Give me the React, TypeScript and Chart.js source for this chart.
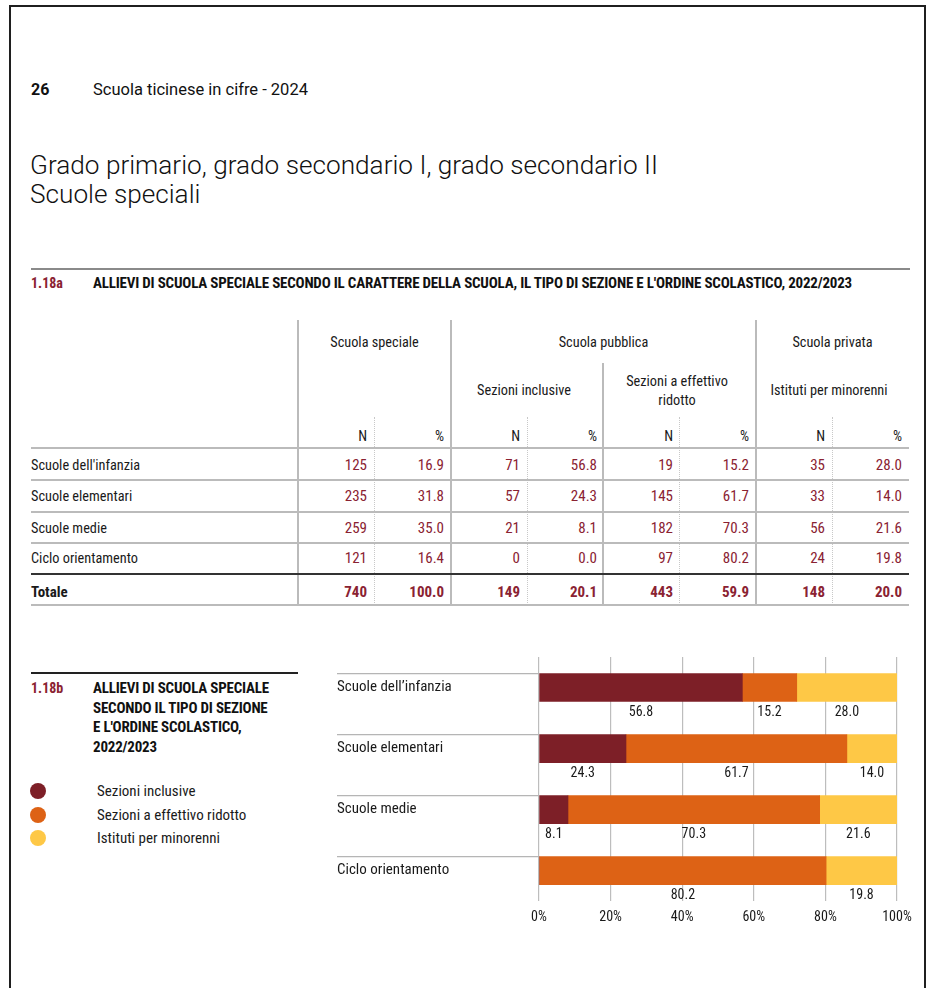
import React, { useEffect, useRef } from "react";
import { Chart, registerables } from "chart.js";

Chart.register(...registerables);

// ---------- data ----------
const categories = ["Scuole dell'infanzia", "Scuole elementari", "Scuole medie", "Ciclo orientamento"];
const chartCategories = ["Scuole dell’infanzia", "Scuole elementari", "Scuole medie", "Ciclo orientamento"];
const totalLabel = "Totale";

const specialeN = [125, 235, 259, 121];
const specialePct = [16.9, 31.8, 35.0, 16.4];
const specialeTot = [740, 100.0];

const inclusiveN = [71, 57, 21, 0];
const inclusivePct = [56.8, 24.3, 8.1, 0.0];
const inclusiveTot = [149, 20.1];

const ridottoN = [19, 145, 182, 97];
const ridottoPct = [15.2, 61.7, 70.3, 80.2];
const ridottoTot = [443, 59.9];

const privataN = [35, 33, 56, 24];
const privataPct = [28.0, 14.0, 21.6, 19.8];
const privataTot = [148, 20.0];

const seriesNames = ["Sezioni inclusive", "Sezioni a effettivo ridotto", "Istituti per minorenni"];
const seriesColors = ["#7d1f27", "#dd6215", "#fec846"];
const xTicks = [0, 20, 40, 60, 80, 100];

// ---------- styles ----------
const COND = '"Liberation Sans Narrow", "Roboto Condensed", "Arial Narrow", Roboto, sans-serif';
const SANS = 'Roboto, "Liberation Sans", sans-serif';
const RED = "#8a2232";
const W = 930;

function T({ x, y, a = "left", s = {}, children }: any) {
  const st: any = { position: "absolute", top: y, whiteSpace: "nowrap", lineHeight: 1, ...s };
  let tx = "";
  if (a === "left") st.left = x;
  else if (a === "right") st.right = W - x;
  else {
    st.left = x;
    tx = "translateX(-50%) ";
  }
  st.transform = tx + "translateY(-50%)";
  return <div style={st}>{children}</div>;
}

function HLine({ x1, x2, y, c = "#bbb", w = 1.5 }: any) {
  return <div style={{ position: "absolute", left: x1, top: y - w / 2, width: x2 - x1, height: w, background: c }} />;
}
function VLine({ x, y1, y2, c = "#bbb", w = 1.5, dotted = false }: any) {
  if (dotted)
    return (
      <div style={{ position: "absolute", left: x - 0.5, top: y1, height: y2 - y1, width: 0, borderLeft: "1px dotted #c8c8c8" }} />
    );
  return <div style={{ position: "absolute", left: x - w / 2, top: y1, width: w, height: y2 - y1, background: c }} />;
}

const fmt1 = (v: number) => v.toFixed(1);

function BarChart() {
  const ref = useRef<HTMLCanvasElement | null>(null);
  useEffect(() => {
    const overlay = {
      id: "overlay",
      afterDatasetsDraw(chart: any) {
        const ctx = chart.ctx;
        const ca = chart.chartArea;
        ctx.save();
        const meta0 = chart.getDatasetMeta(0);
        chartCategories.forEach((c, i) => {
          const bar = meta0.data[i];
          const top = bar.y - bar.height / 2;
          ctx.strokeStyle = "#b5b5b5";
          ctx.lineWidth = 1.3;
          ctx.beginPath();
          ctx.moveTo(7, top);
          ctx.lineTo(ca.left, top);
          ctx.stroke();
          ctx.fillStyle = "#1a1a1a";
          ctx.font = "15px " + COND;
          ctx.textAlign = "left";
          ctx.textBaseline = "middle";
          ctx.fillText(c, 7, top + 14);
        });
        ctx.font = "14px " + COND;
        ctx.textAlign = "center";
        ctx.textBaseline = "middle";
        ctx.fillStyle = "#1a1a1a";
        chart.data.datasets.forEach((ds: any, di: number) => {
          const meta = chart.getDatasetMeta(di);
          meta.data.forEach((bar: any, i: number) => {
            const v = ds.data[i];
            if (!v) return;
            const cx = (bar.base + bar.x) / 2;
            const cy = bar.y + bar.height / 2 + 11;
            ctx.fillText(fmt1(v), cx, cy);
          });
        });
        ctx.restore();
      },
    };
    const chart = new Chart(ref.current as HTMLCanvasElement, {
      type: "bar",
      data: {
        labels: chartCategories,
        datasets: [
          { label: seriesNames[0], data: inclusivePct, backgroundColor: seriesColors[0], barThickness: 28 },
          { label: seriesNames[1], data: ridottoPct, backgroundColor: seriesColors[1], barThickness: 28 },
          { label: seriesNames[2], data: privataPct, backgroundColor: seriesColors[2], barThickness: 28 },
        ],
      },
      options: {
        indexAxis: "y",
        animation: false,
        responsive: false,
        maintainAspectRatio: false,
        layout: { padding: { left: 209, right: 23, top: 12, bottom: 1 } },
        plugins: { legend: { display: false }, tooltip: { enabled: false } },
        scales: {
          x: {
            stacked: true,
            min: 0,
            max: 100,
            afterBuildTicks: (axis: any) => {
              axis.ticks = xTicks.map((v) => ({ value: v }));
            },
            ticks: {
              callback: (v: any) => v + "%",
              color: "#1a1a1a",
              font: { family: COND, size: 14 },
              padding: 8,
            },
            grid: { color: "#bdbdbd", lineWidth: 1.2, drawTicks: false },
            border: { display: false },
          },
          y: { stacked: true, display: false },
        },
      } as any,
      plugins: [overlay],
    });
    return () => chart.destroy();
  }, []);
  return (
    <div style={{ position: "absolute", left: 330, top: 645, width: 590, height: 290 }}>
      <canvas ref={ref} width={590} height={290} style={{ width: 590, height: 290 }} />
    </div>
  );
}

export default function App() {
  const rowY = [465, 496, 528, 558];
  const totY = 592;
  const rowLines = [448, 480, 512, 543];
  const nRight = [367, 520, 673, 825];
  const pRight = [444, 597, 749, 902];
  const groupsN = [specialeN, inclusiveN, ridottoN, privataN];
  const groupsP = [specialePct, inclusivePct, ridottoPct, privataPct];
  const groupsT = [specialeTot, inclusiveTot, ridottoTot, privataTot];
  const cell = { fontFamily: COND, fontSize: 15, color: RED };
  const hdr = { fontFamily: COND, fontSize: 14.3, color: "#1a1a1a" };
  const boldTitle = { fontFamily: COND, fontSize: 15, fontWeight: 700, color: "#111", letterSpacing: "-0.2px" };

  return (
    <div style={{ position: "absolute", left: 0, top: 0, width: 930, height: 988, overflow: "hidden", background: "#fff" }}>
      {/* page frame */}
      <div style={{ position: "absolute", left: 9, top: 5, width: 917, height: 1100, border: "2px solid #1f1f1f", boxSizing: "border-box" }} />

      {/* header */}
      <T x={31} y={90} s={{ fontFamily: SANS, fontSize: 16, fontWeight: 700, color: "#111" }}>26</T>
      <T x={93} y={90} s={{ fontFamily: SANS, fontSize: 16.5, color: "#111" }}>Scuola ticinese in cifre - 2024</T>

      <T x={30} y={165} s={{ fontFamily: SANS, fontSize: 26.2, fontWeight: 300, color: "#111" }}>
        Grado primario, grado secondario I, grado secondario II
      </T>
      <T x={30} y={194} s={{ fontFamily: SANS, fontSize: 26.2, fontWeight: 300, color: "#111" }}>Scuole speciali</T>

      {/* table 1.18a */}
      <HLine x1={31} x2={910} y={269} c="#8a8a8a" w={2} />
      <T x={31} y={283} s={{ fontFamily: COND, fontSize: 14, fontWeight: 700, color: RED }}>1.18a</T>
      <T x={93} y={283} s={boldTitle}>
        ALLIEVI DI SCUOLA SPECIALE SECONDO IL CARATTERE DELLA SCUOLA, IL TIPO DI SEZIONE E L'ORDINE SCOLASTICO, 2022/2023
      </T>

      <VLine x={298} y1={320} y2={605} />
      <VLine x={451} y1={320} y2={605} />
      <VLine x={756} y1={320} y2={605} />
      <VLine x={603} y1={363} y2={605} />
      {[374.5, 527, 679.5, 832].map((x) => (
        <VLine key={x} x={x} y1={417} y2={605} dotted />
      ))}

      <T x={374.5} y={342} a="center" s={hdr}>Scuola speciale</T>
      <T x={603.5} y={342} a="center" s={hdr}>Scuola pubblica</T>
      <T x={832.5} y={342} a="center" s={hdr}>Scuola privata</T>
      <T x={524} y={390} a="center" s={hdr}>Sezioni inclusive</T>
      <T x={677} y={381} a="center" s={hdr}>Sezioni a effettivo</T>
      <T x={677} y={400} a="center" s={hdr}>ridotto</T>
      <T x={829} y={390} a="center" s={hdr}>Istituti per minorenni</T>
      {nRight.map((x, i) => (
        <T key={"n" + i} x={x} y={436} a="right" s={hdr}>N</T>
      ))}
      {pRight.map((x, i) => (
        <T key={"p" + i} x={x} y={436} a="right" s={hdr}>%</T>
      ))}

      {rowLines.map((y, i) => (
        <HLine key={"rl" + i} x1={31} x2={909} y={y} />
      ))}
      <HLine x1={31} x2={909} y={574} c="#333" w={1.5} />
      <HLine x1={31} x2={909} y={605} />

      {categories.map((c, i) => (
        <React.Fragment key={c}>
          <T x={31} y={rowY[i]} s={hdr}>{c}</T>
          {groupsN.map((g, gi) => (
            <T key={"gn" + gi} x={nRight[gi]} y={rowY[i]} a="right" s={cell}>{g[i]}</T>
          ))}
          {groupsP.map((g, gi) => (
            <T key={"gp" + gi} x={pRight[gi]} y={rowY[i]} a="right" s={cell}>{fmt1(g[i])}</T>
          ))}
        </React.Fragment>
      ))}
      <T x={31} y={totY} s={{ ...hdr, fontSize: 15, fontWeight: 700 }}>{totalLabel}</T>
      {groupsT.map((g, gi) => (
        <React.Fragment key={"t" + gi}>
          <T x={nRight[gi]} y={totY} a="right" s={{ ...cell, fontWeight: 700 }}>{g[0]}</T>
          <T x={pRight[gi]} y={totY} a="right" s={{ ...cell, fontWeight: 700 }}>{fmt1(g[1])}</T>
        </React.Fragment>
      ))}

      {/* chart 1.18b */}
      <HLine x1={31} x2={298} y={673} c="#222" w={1.3} />
      <T x={31} y={688} s={{ fontFamily: COND, fontSize: 14, fontWeight: 700, color: RED }}>1.18b</T>
      {["ALLIEVI DI SCUOLA SPECIALE", "SECONDO IL TIPO DI SEZIONE", "E L'ORDINE SCOLASTICO,", "2022/2023"].map((l, i) => (
        <T key={l} x={93} y={688 + i * 19.7} s={boldTitle}>{l}</T>
      ))}
      {seriesNames.map((n, i) => (
        <React.Fragment key={n}>
          <div
            style={{
              position: "absolute",
              left: 30,
              top: 791 + i * 23.5 - 8,
              width: 16,
              height: 16,
              borderRadius: 8,
              background: seriesColors[i],
            }}
          />
          <T x={97} y={791 + i * 23.5} s={{ fontFamily: COND, fontSize: 15, color: "#1a1a1a" }}>{n}</T>
        </React.Fragment>
      ))}

      <BarChart />
    </div>
  );
}
